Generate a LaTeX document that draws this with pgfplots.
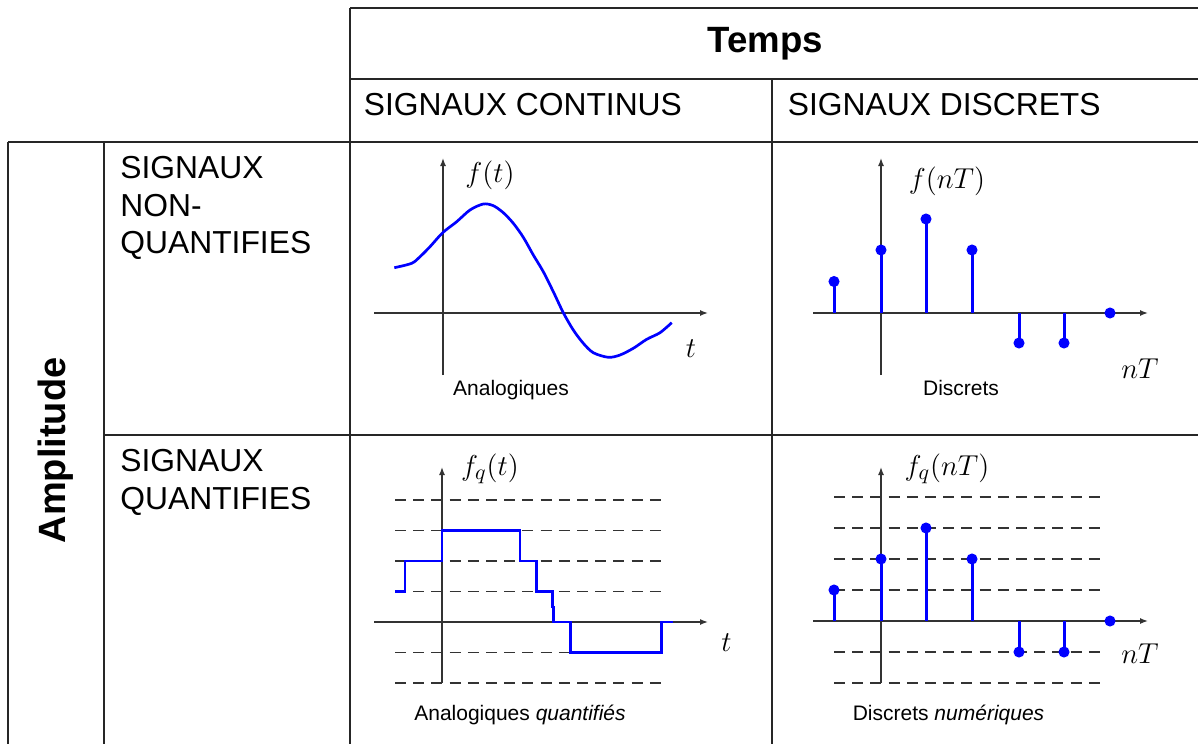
\documentclass[border=0pt]{standalone}
\usepackage{fontspec}
\setmainfont{Liberation Sans}
\usepackage{pgfplots}
\pgfplotsset{compat=1.18}
\usetikzlibrary{arrows.meta}
\definecolor{axgray}{HTML}{333333}
\pgfplotsset{
  panel/.style={
    x=0.5pt, y=0.5pt, axis lines=middle, enlargelimits=false,
    xtick=\empty, ytick=\empty, clip=false,
    axis line style={axgray, line width=0.7pt},
    every inner x axis line/.append style={-{Latex[length=4pt,width=3pt]}},
    every inner y axis line/.append style={-{Latex[length=4pt,width=3pt]}},
    anchor=south west,
  },
  level/.style={color=axgray, line width=0.75pt, dash pattern=on 5.5pt off 3.6pt, forget plot},
}
\newcommand{\hdr}{\fontsize{15.9}{18}\selectfont}
\newcommand{\sml}{\fontsize{10.5}{12}\selectfont}
\newcommand{\mth}{\fontsize{15.3}{18}\selectfont}
\begin{document}
\begin{tikzpicture}[x=0.5pt,y=-0.5pt]
\useasboundingbox (0,0) rectangle (1198,744);
% table grid
\begin{scope}[line width=0.7pt, black!85]
\draw (350,8) -- (1198,8);
\draw (350,79) -- (1198,79);
\draw (8,142) -- (1198,142);
\draw (104,435) -- (1198,435);
\draw (350,8) -- (350,744);
\draw (772,79) -- (772,744);
\draw (8,142) -- (8,744);
\draw (104,142) -- (104,744);
\end{scope}
% panel 1: analog
\begin{axis}[panel, at={(187pt,-187.5pt)}, xmin=-69, xmax=265, ymin=-62, ymax=155]
\addplot[blue, line width=1.35pt, smooth] coordinates {
(-48.7,45.3) (-31.3,49.7) (-23,56.3) (-13,66.3) (-0.3,80.3) (13.7,91.3) (27,103)
(40.3,109) (50.3,107.3) (60.3,100.3) (70.3,89.7) (80.3,75.7) (90.3,58) (100.3,41.3)
(110.3,21.3) (120.3,0.3) (130.3,-17) (140.3,-30.3) (150.3,-39.7) (165.3,-44.3)
(177,-42) (190.3,-35.3) (203.7,-26.3) (217,-19.7) (228.7,-9.7)};
\end{axis}
% panel 2: discrete
\begin{axis}[panel, at={(406.5pt,-187.5pt)}, xmin=-68, xmax=267, ymin=-62, ymax=155]
\addplot[blue, line width=1.5pt, ycomb, mark=*, mark size=2.5pt, mark options={blue, fill=blue, line width=0.5pt}]
  coordinates {(-47,31.5) (0,63) (45,94) (91,63) (138,-30) (183,-30) (229,0)};
\end{axis}
% panel 3: quantized analog
\begin{axis}[panel, at={(187pt,-341.5pt)}, xmin=-68, xmax=266, ymin=-61, ymax=155]
\addplot[level] coordinates {(-47,122) (226,122)};
\addplot[level] coordinates {(-47,91.5) (226,91.5)};
\addplot[level] coordinates {(-47,61) (226,61)};
\addplot[level] coordinates {(-47,30.5) (226,30.5)};
\addplot[level] coordinates {(-47,-30.5) (226,-30.5)};
\addplot[level] coordinates {(-47,-61) (226,-61)};
\addplot[blue, line width=1.35pt] coordinates {
(-47,30.5) (-37,30.5) (-37,61) (0,61) (0,91.5) (78,91.5) (78,61) (94.7,61)
(94.7,30.5) (110.3,30.5) (110.3,15) (111.8,15) (111.8,0) (128.7,0) (128.7,-30.5)
(219.7,-30.5) (219.7,0) (230.7,0)};
\end{axis}
% panel 4: digital
\begin{axis}[panel, at={(406.5pt,-341.5pt)}, xmin=-68, xmax=267, ymin=-62, ymax=154]
\addplot[level] coordinates {(-47,124) (226,124)};
\addplot[level] coordinates {(-47,93) (226,93)};
\addplot[level] coordinates {(-47,62) (226,62)};
\addplot[level] coordinates {(-47,31) (226,31)};
\addplot[level] coordinates {(-47,-31) (226,-31)};
\addplot[level] coordinates {(-47,-62) (226,-62)};
\addplot[blue, line width=1.5pt, ycomb, mark=*, mark size=2.5pt, mark options={blue, fill=blue, line width=0.5pt}]
  coordinates {(-47,31) (0,62) (45,93) (91,62) (138,-31) (183,-31) (229,0)};
\end{axis}
% texts
\node[inner sep=0, anchor=base, font=\fontsize{18.3}{21}\selectfont\bfseries] at (765.5,52) {Temps};
\node[inner sep=0, anchor=base west, font=\hdr] at (363.5,115.7) {SIGNAUX CONTINUS};
\node[inner sep=0, anchor=base west, font=\hdr] at (787.5,115.7) {SIGNAUX DISCRETS};
\node[inner sep=0, anchor=base west, font=\hdr] at (120,178.3) {SIGNAUX};
\node[inner sep=0, anchor=base west, font=\hdr] at (120,216) {NON-};
\node[inner sep=0, anchor=base west, font=\hdr] at (120,253.3) {QUANTIFIES};
\node[inner sep=0, anchor=base west, font=\hdr] at (120,471.7) {SIGNAUX};
\node[inner sep=0, anchor=base west, font=\hdr] at (120,509.3) {QUANTIFIES};
\node[inner sep=0, anchor=base, rotate=90, font=\fontsize{19}{22}\selectfont\bfseries] at (65,450.5) {Amplitude};
% panel labels
\node[inner sep=0, font=\mth] at (490,175) {$f(t)$};
\node[inner sep=0, anchor=base, font=\mth] at (691,357) {$t$};
\node[inner sep=0, anchor=base, font=\sml] at (511,395) {Analogiques};
\node[inner sep=0, font=\mth] at (947,181) {$f(nT)$};
\node[inner sep=0, anchor=base, font=\mth] at (1140,378) {$nT$};
\node[inner sep=0, anchor=base, font=\sml] at (961,395) {Discrets};
\node[inner sep=0, font=\mth] at (490,468.5) {$f_q(t)$};
\node[inner sep=0, anchor=base, font=\mth] at (726.5,651.7) {$t$};
\node[inner sep=0, anchor=base, font=\sml] at (520,720) {Analogiques \textit{quantifiés}};
\node[inner sep=0, font=\mth] at (947,468.5) {$f_q(nT)$};
\node[inner sep=0, anchor=base, font=\mth] at (1140,663) {$nT$};
\node[inner sep=0, anchor=base, font=\sml] at (948.5,720) {Discrets \textit{numériques}};
\end{tikzpicture}
\end{document}
